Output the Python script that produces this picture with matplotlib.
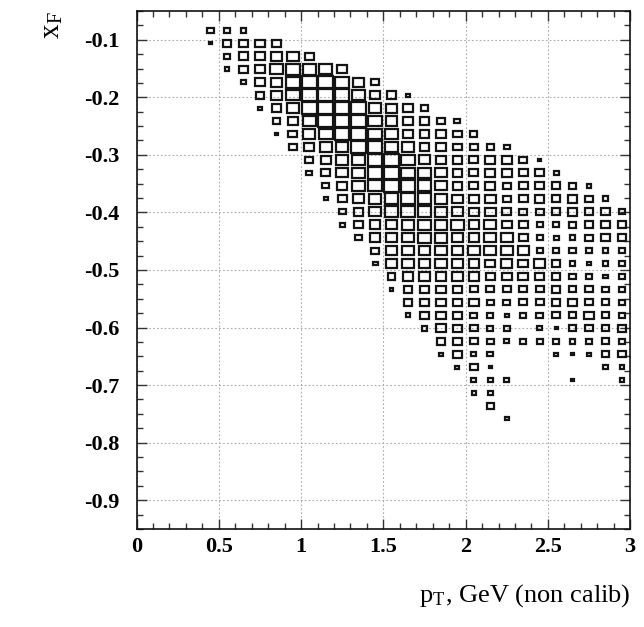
import matplotlib
matplotlib.use("Agg")
import matplotlib.pyplot as plt
from matplotlib.patches import Rectangle
from matplotlib.collections import PatchCollection
from matplotlib.ticker import MultipleLocator

# ---- binning (pT: 30 bins 0..3, xF: 40 bins -0.95..-0.05) ----
x_lo, x_hi, n_x = 0.0, 3.0, 30
y_lo, y_hi, n_y = -0.95, -0.05, 40

# ---- box contents, read per xF row (row 0 = top bin) ----
row_index = [1, 2, 3, 4, 5, 6, 7, 8, 9, 10, 11, 12, 13, 14, 15, 16,
             17, 18, 19, 20, 21, 22, 23, 24, 25, 26, 27, 28, 29, 30, 31]
row_first_bin = [4, 4, 5, 5, 6, 7, 7, 8, 8, 9, 10, 10, 11, 11, 12, 12,
                 13, 14, 14, 15, 15, 16, 16, 17, 18, 18, 19, 20, 20, 21, 22]
row_counts = [
    [7, 7, 6],
    [3, 9, 10, 10, 9],
    [7, 10, 11, 12, 12, 9],
    [5, 9, 11, 13, 14, 14, 13, 10],
    [6, 10, 12, 14, 15, 15, 14, 12, 8],
    [9, 12, 14, 15, 15, 15, 14, 11, 10, 4],
    [4, 10, 13, 15, 15, 15, 15, 13, 12, 10, 8],
    [7, 11, 13, 15, 15, 15, 14, 12, 10, 10, 8, 6],
    [3, 9, 12, 14, 15, 15, 14, 13, 11, 10, 10, 9, 7],
    [8, 10, 12, 13, 15, 15, 13, 12, 10, 10, 9, 8, 7, 6],
    [8, 10, 13, 14, 15, 15, 14, 12, 11, 10, 9, 10, 10, 8, 3],
    [6, 9, 12, 14, 15, 15, 14, 13, 12, 10, 9, 10, 10, 9, 9, 5],
    [7, 10, 13, 14, 15, 15, 14, 12, 10, 9, 10, 8, 9, 9, 9, 8, 5],
    [4, 9, 12, 13, 14, 15, 14, 13, 11, 10, 11, 8, 9, 10, 9, 10, 8, 6],
    [7, 10, 12, 14, 14, 14, 13, 12, 10, 11, 9, 8, 8, 9, 10, 9, 9, 7],
    [5, 9, 11, 12, 13, 13, 13, 13, 11, 12, 10, 9, 6, 6, 8, 9, 10, 9],
    [7, 11, 11, 12, 13, 13, 12, 11, 12, 12, 9, 6, 5, 6, 8, 10, 9],
    [8, 11, 12, 12, 12, 12, 12, 12, 12, 11, 6, 7, 7, 7, 6, 7],
    [5, 11, 12, 12, 12, 12, 11, 10, 11, 10, 11, 8, 6, 5, 6, 6],
    [8, 11, 11, 11, 11, 11, 9, 10, 10, 10, 9, 7, 7, 5, 6],
    [3, 9, 10, 10, 9, 8, 8, 8, 8, 8, 9, 8, 8, 7, 7],
    [9, 10, 10, 10, 10, 7, 7, 8, 8, 9, 10, 8, 8, 7],
    [5, 10, 10, 9, 7, 6, 4, 6, 7, 8, 8, 10, 8, 7],
    [6, 10, 9, 8, 6, 6, 0, 5, 3, 8, 8, 8, 9],
    [9, 9, 8, 7, 5, 6, 6, 6, 6, 7, 8, 7],
    [4, 9, 5, 6, 0, 0, 0, 4, 3, 4, 8, 8],
    [4, 8, 3, 0, 0, 0, 0, 0, 0, 5, 5],
    [5, 5, 5, 0, 0, 0, 3, 0, 0, 5],
    [4, 5],
    [7],
    [4],
]
count_max = 17.0

x_ticks = [0, 0.5, 1, 1.5, 2, 2.5, 3]
x_tick_labels = ["0", "0.5", "1", "1.5", "2", "2.5", "3"]
y_ticks = [-0.9, -0.8, -0.7, -0.6, -0.5, -0.4, -0.3, -0.2, -0.1]
y_tick_labels = ["-0.9", "-0.8", "-0.7", "-0.6", "-0.5", "-0.4", "-0.3", "-0.2", "-0.1"]
x_title = r"p$_\mathregular{T}$, GeV (non calib)"
y_title = r"x$_\mathregular{F}$"

plt.rcParams["font.family"] = ["Liberation Serif", "DejaVu Serif"]
plt.rcParams["mathtext.fontset"] = "stix"

fig = plt.figure(figsize=(6.44, 6.27), dpi=100)
ax = fig.add_axes([0.2120, 0.1563, 0.7665, 0.8262])

dx = (x_hi - x_lo) / n_x
dy = (y_hi - y_lo) / n_y
patches = []
for j, c0, vals in zip(row_index, row_first_bin, row_counts):
    yc = y_hi - (j + 0.5) * dy
    for k, v in enumerate(vals):
        if v <= 0:
            continue
        xc = x_lo + (c0 + k + 0.5) * dx
        f = v / count_max
        w, h = f * dx, f * dy
        patches.append(Rectangle((xc - w / 2, yc - h / 2), w, h))
pc = PatchCollection(patches, facecolor="none", edgecolor="#141414",
                     linewidth=1.6, joinstyle="miter", zorder=3)
ax.add_collection(pc)

ax.set_xlim(x_lo, x_hi)
ax.set_ylim(y_lo, y_hi)
ax.set_xticks(x_ticks)
ax.set_xticklabels(x_tick_labels)
ax.set_yticks(y_ticks)
ax.set_yticklabels(y_tick_labels)
ax.xaxis.set_minor_locator(MultipleLocator(0.1))
ax.yaxis.set_minor_locator(MultipleLocator(0.025))
ax.tick_params(which="both", direction="in", top=True, right=True, width=1.0, color="#333333")
ax.tick_params(which="major", length=7)
ax.tick_params(which="minor", length=4)
ax.tick_params(axis="y", which="major", pad=12)
ax.tick_params(axis="x", which="major", pad=6)
for lab in ax.get_xticklabels() + ax.get_yticklabels():
    lab.set_fontsize(16)
    lab.set_fontweight("bold")

ax.grid(True, which="major", linestyle=(0, (1.5, 2)), color="#aaaaaa", linewidth=0.8, zorder=0)
ax.set_axisbelow(True)
for s in ax.spines.values():
    s.set_linewidth(1.2)
    s.set_color("#111111")

ax.set_xlabel(x_title, fontsize=19, loc="right", labelpad=18)
ax.set_ylabel(y_title, fontsize=21, loc="top", labelpad=14)

fig.savefig("out.png", dpi=100)
